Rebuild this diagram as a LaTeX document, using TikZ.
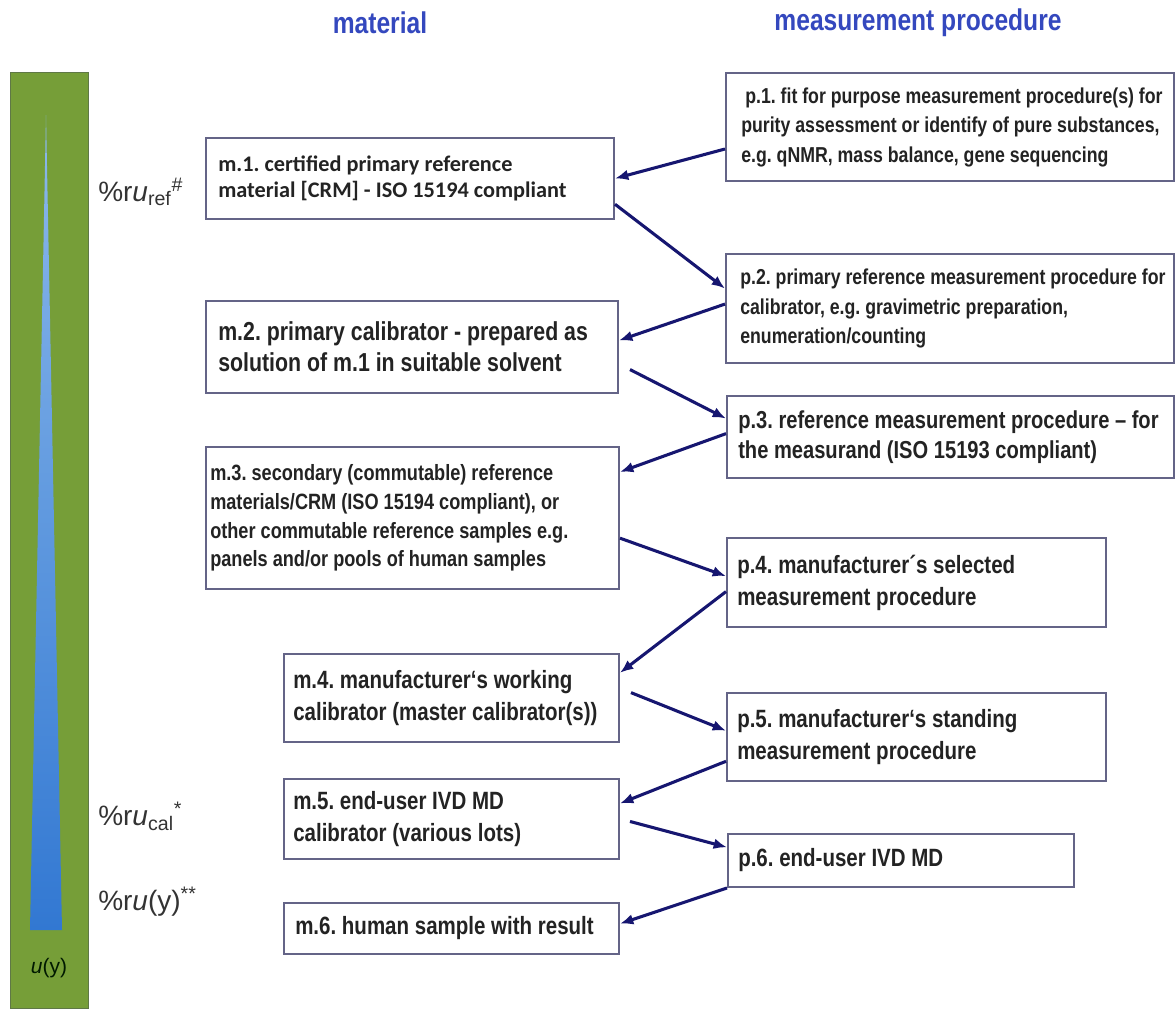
\documentclass[tikz,border=0pt]{standalone}
\usepackage{fontspec}
\setmainfont{Liberation Sans}
\newfontfamily\narrowfont{Liberation Sans}[FakeStretch=0.82]
\newfontfamily\calfont{Carlito}
\usetikzlibrary{arrows.meta,calc}

\definecolor{barGreen}{RGB}{118,158,56}
\definecolor{barEdge}{RGB}{95,120,70}
\definecolor{barBlueTop}{RGB}{140,185,235}
\definecolor{barBlueBot}{RGB}{50,120,210}
\definecolor{boxLine}{RGB}{100,100,135}
\definecolor{flowNavy}{RGB}{22,22,112}
\definecolor{headBlue}{RGB}{52,72,190}
\definecolor{inkGray}{RGB}{35,35,35}

\tikzset{
  frame/.style={draw=boxLine, line width=1.5pt, fill=white, inner sep=0pt, anchor=north west},
  boxtext/.style={inner sep=0pt, align=left, anchor=west, text=inkGray},
  flow/.style={draw=flowNavy, line width=2.3pt, -{Latex[length=10pt,width=8pt]}},
  head/.style={inner sep=0pt, text=headBlue, font={\narrowfont\bfseries\fontsize{22.5pt}{26pt}\selectfont}},
  side/.style={inner sep=0pt, anchor=west, text=black!80, font={\fontsize{21pt}{25pt}\selectfont}},
  ftA/.style={font={\narrowfont\bfseries\fontsize{16.2pt}{22.1pt}\selectfont}},
  ftB/.style={font={\calfont\bfseries\fontsize{16.7pt}{19.5pt}\selectfont}},
  ftC/.style={font={\narrowfont\bfseries\fontsize{19.5pt}{23.2pt}\selectfont}},
  ftD/.style={font={\narrowfont\bfseries\fontsize{18.4pt}{22.5pt}\selectfont}},
  ftE/.style={font={\narrowfont\bfseries\fontsize{16.6pt}{21.5pt}\selectfont}},
  ftF/.style={font={\narrowfont\bfseries\fontsize{18.75pt}{24pt}\selectfont}},
}

\begin{document}
\frenchspacing
\begin{tikzpicture}[x=0.75pt,y=-0.75pt]
\useasboundingbox (0,0) rectangle (1175,1010);

% uncertainty bar with its widening wedge
\fill[barGreen, draw=barEdge, line width=0.75pt] (10,72) rectangle (88,1008);
\shade[top color=barBlueTop, bottom color=barBlueBot] (46,115) -- (62,930) -- (30,930) -- cycle;
\node[inner sep=0pt, text=black!75!green!40!black, font={\fontsize{15.75pt}{18pt}\selectfont}] (uy) at (49,968) {\textit{u}(y)};

% side labels
\node[side] (uref) at (98,192) {\%r\textit{u}\textsubscript{ref}\textsuperscript{\#}};
\node[side] (ucal) at (98,816) {\%r\textit{u}\textsubscript{cal}\textsuperscript{*}};
\node[side] (uyy)  at (98,902) {\%r\textit{u}(y)\textsuperscript{**}};

% column headings
\node[head] (hmat) at (380,23) {material};
\node[head] (hproc) at (918,23) {measurement procedure};

% material column
\node[frame, minimum width=408*0.75pt, minimum height=81*0.75pt] (m1) at (205,137) {};
\node[boxtext, ftB] (m1t) at ([xshift=13*0.75pt]m1.west) {m.1. certified primary reference\\material [CRM] - ISO 15194 compliant};

\node[frame, minimum width=412*0.75pt, minimum height=92*0.75pt] (m2) at (205,300) {};
\node[boxtext, ftC] (m2t) at ([xshift=13*0.75pt]m2.west) {m.2. primary calibrator - prepared as\\solution of m.1 in suitable solvent};

\node[frame, minimum width=413*0.75pt, minimum height=142*0.75pt] (m3) at (205,446) {};
\node[boxtext, ftE] (m3t) at ([xshift=5*0.75pt]m3.west) {m.3. secondary (commutable) reference\\materials/CRM (ISO 15194 compliant), or\\other commutable reference samples e.g.\\panels and/or pools of human samples};

\node[frame, minimum width=335*0.75pt, minimum height=88*0.75pt] (m4) at (283,653) {};
\node[boxtext, ftF] (m4t) at ([xshift=10*0.75pt]m4.west) {m.4. manufacturer‘s working\\calibrator (master calibrator(s))};

\node[frame, minimum width=335*0.75pt, minimum height=80*0.75pt] (m5) at (283,778) {};
\node[boxtext, ftF] (m5t) at ([xshift=10*0.75pt]m5.west) {m.5. end-user IVD MD\\calibrator (various lots)};

\node[frame, minimum width=335*0.75pt, minimum height=51*0.75pt] (m6) at (283,902) {};
\node[boxtext, ftF] (m6t) at ([xshift=12*0.75pt]m6.west) {m.6. human sample with result};

% procedure column
\node[frame, minimum width=448*0.75pt, minimum height=108*0.75pt] (p1) at (725,72) {};
\node[boxtext, ftA] (p1t) at ([xshift=16*0.75pt]p1.west) {\hspace*{3pt}p.1. fit for purpose measurement procedure(s) for\\purity assessment or identify of pure substances,\\e.g. qNMR, mass balance, gene sequencing};

\node[frame, minimum width=448*0.75pt, minimum height=109*0.75pt] (p2) at (725,253) {};
\node[boxtext, ftA] (p2t) at ([xshift=15*0.75pt]p2.west) {p.2. primary reference measurement procedure for\\calibrator, e.g. gravimetric preparation,\\enumeration/counting};

\node[frame, minimum width=447*0.75pt, minimum height=82*0.75pt] (p3) at (726,395) {};
\node[boxtext, ftD] (p3t) at ([xshift=12*0.75pt]p3.west) {p.3. reference measurement procedure – for\\the measurand (ISO 15193 compliant)};

\node[frame, minimum width=379*0.75pt, minimum height=89*0.75pt] (p4) at (726,537) {};
\node[boxtext, ftF] (p4t) at ([xshift=11*0.75pt]p4.west) {p.4. manufacturer´s selected\\measurement procedure};

\node[frame, minimum width=379*0.75pt, minimum height=88*0.75pt] (p5) at (726,692) {};
\node[boxtext, ftF] (p5t) at ([xshift=11*0.75pt]p5.west) {p.5. manufacturer‘s standing\\measurement procedure};

\node[frame, minimum width=346*0.75pt, minimum height=53*0.75pt] (p6) at (727,833) {};
\node[boxtext, ftF] (p6t) at ([xshift=11*0.75pt]p6.west) {p.6. end-user IVD MD};

% traceability chain
\draw[flow] ($(p1.north west)!0.70!(p1.south west)$) -- (m1.east);
\draw[flow] ($(m1.north east)!0.81!(m1.south east)$) -- ($(p2.north west)!0.32!(p2.south west)$);
\draw[flow] ($(p2.north west)!0.46!(p2.south west)$) -- ($(m2.north east)!0.43!(m2.south east)$);
\draw[flow] ($(m2.north east)!0.74!(m2.south east) + (11,0)$) -- ($(p3.north west)!0.28!(p3.south west)$);
\draw[flow] ($(p3.north west)!0.46!(p3.south west)$) -- ($(m3.north east)!0.18!(m3.south east)$);
\draw[flow] ($(m3.north east)!0.64!(m3.south east)$) -- ($(p4.north west)!0.43!(p4.south west)$);
\draw[flow] ($(p4.north west)!0.60!(p4.south west)$) -- ($(m4.north east)!0.22!(m4.south east)$);
\draw[flow] ($(m4.north east)!0.44!(m4.south east) + (11,0)$) -- ($(p5.north west)!0.43!(p5.south west)$);
\draw[flow] ($(p5.north west)!0.77!(p5.south west)$) -- ($(m5.north east)!0.31!(m5.south east)$);
\draw[flow] ($(m5.north east)!0.53!(m5.south east) + (10,0)$) -- ($(p6.north west)!0.26!(p6.south west)$);
\draw[flow] (p6.south west) -- ($(m6.north east)!0.41!(m6.south east)$);
\end{tikzpicture}
\end{document}
